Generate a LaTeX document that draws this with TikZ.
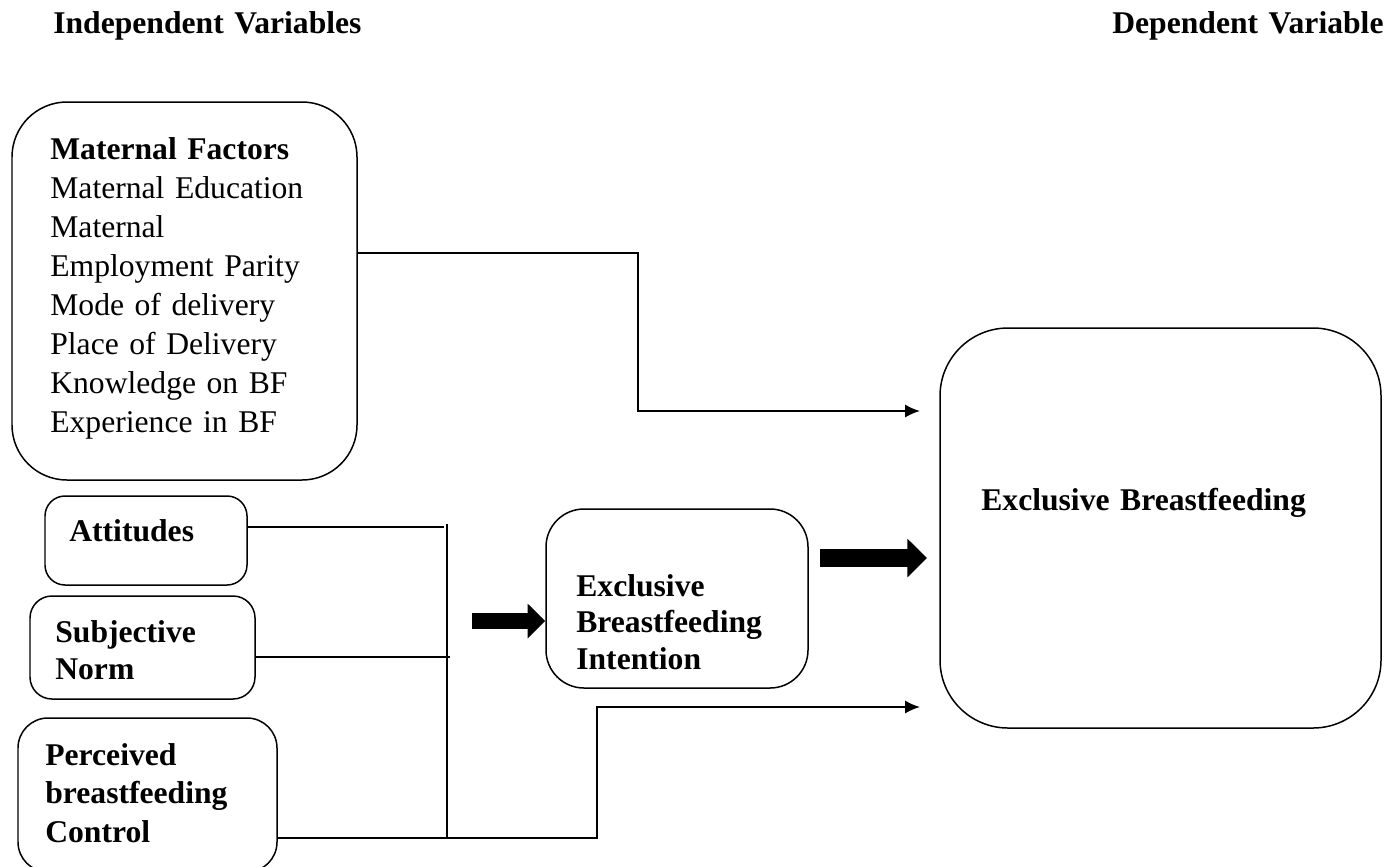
\documentclass[tikz,border=0pt]{standalone}
\usepackage{fontspec}
\setmainfont{Liberation Serif}
\usetikzlibrary{fit,arrows.meta}

\begin{document}
\begin{tikzpicture}[x=0.02cm,y=-0.02cm,
    font=\fontsize{18pt}{22pt}\selectfont,
    box/.style={draw,line width=0.85pt,inner sep=0pt},
    txt/.style={anchor=base west,inner sep=0pt,text width=9cm,align=left},
    link/.style={line width=1.1pt,-{Latex[length=8.5pt,width=7.5pt]}},
    thinlink/.style={line width=0.6pt},
    blk/.style={line width=#1,-{Triangle[length=1.1*#1,width=2.1*#1]}}]
  \useasboundingbox (0,0) rectangle (1391,866);
  % headings
  \node[txt] (indep) at (53,33) {\textbf{Independent Variables}};
  \node[txt] (dep) at (1112,33) {\textbf{Dependent Variable}};
  % boxes
  \node[box,rounded corners=1.1cm,fit={(12,102) (357,480)}] (mat) {};
  \node[box,rounded corners=0.4cm,fit={(45,496) (247,585)}] (att) {};
  \node[box,rounded corners=0.44cm,fit={(30,596) (255,699)}] (sn) {};
  \node[box,rounded corners=0.6cm,fit={(18,718) (277,872)}] (pc) {};
  \node[box,rounded corners=0.76cm,fit={(546,509) (808,688)}] (ebi) {};
  \node[box,rounded corners=1.36cm,fit={(940,328) (1381,728)}] (eb) {};
  % texts
  \node[txt,font=\fontsize{18pt}{22.2pt}\selectfont] (matTxt) at (50,159)
    {\textbf{Maternal Factors}\\Maternal Education\\Maternal\\Employment Parity\\
     Mode of delivery\\Place of Delivery\\Knowledge on BF\\Experience in BF};
  \node[txt] (attTxt) at (69,541) {\textbf{Attitudes}};
  \node[txt,font=\fontsize{18pt}{21.6pt}\selectfont] (snTxt) at (55,642)
    {\textbf{Subjective}\\\textbf{Norm}};
  \node[txt] (pcTxt) at (45,765)
    {\textbf{Perceived}\\\textbf{breastfeeding}\\\textbf{Control}};
  \node[txt,font=\fontsize{18pt}{21pt}\selectfont] (ebiTxt) at (576,596)
    {\textbf{Exclusive}\\\textbf{Breastfeeding}\\\textbf{Intention}};
  \node[txt] (ebTxt) at (981,510) {\textbf{Exclusive Breastfeeding}};
  % connectors
  \coordinate (mBend) at (638,253);
  \coordinate (ebTop) at (920,411);
  \draw[link] (mBend -| mat.east) -- (mBend) |- (ebTop);
  \coordinate (jA) at (444,527);
  \coordinate (jS) at (450,657);
  \coordinate (jT) at (447,524);
  \coordinate (pBend) at (597,838);
  \coordinate (ebBot) at (920,707);
  \draw[thinlink] (att.east |- jA) -- (jA);
  \draw[thinlink] (sn.east |- jS) -- (jS);
  \draw[thinlink] (jT) -- (jT |- pBend);
  \draw[link] (pc.east |- pBend) -- (pBend) |- (ebBot);
  % block arrows
  \coordinate (inTail) at (472,621);
  \draw[blk=9.1pt] (inTail) -- (inTail -| ebi.west);
  \coordinate (outTail) at (820,558);
  \coordinate (outTip) at (927,558);
  \draw[blk=10.2pt] (outTail) -- (outTip);
\end{tikzpicture}
\end{document}
